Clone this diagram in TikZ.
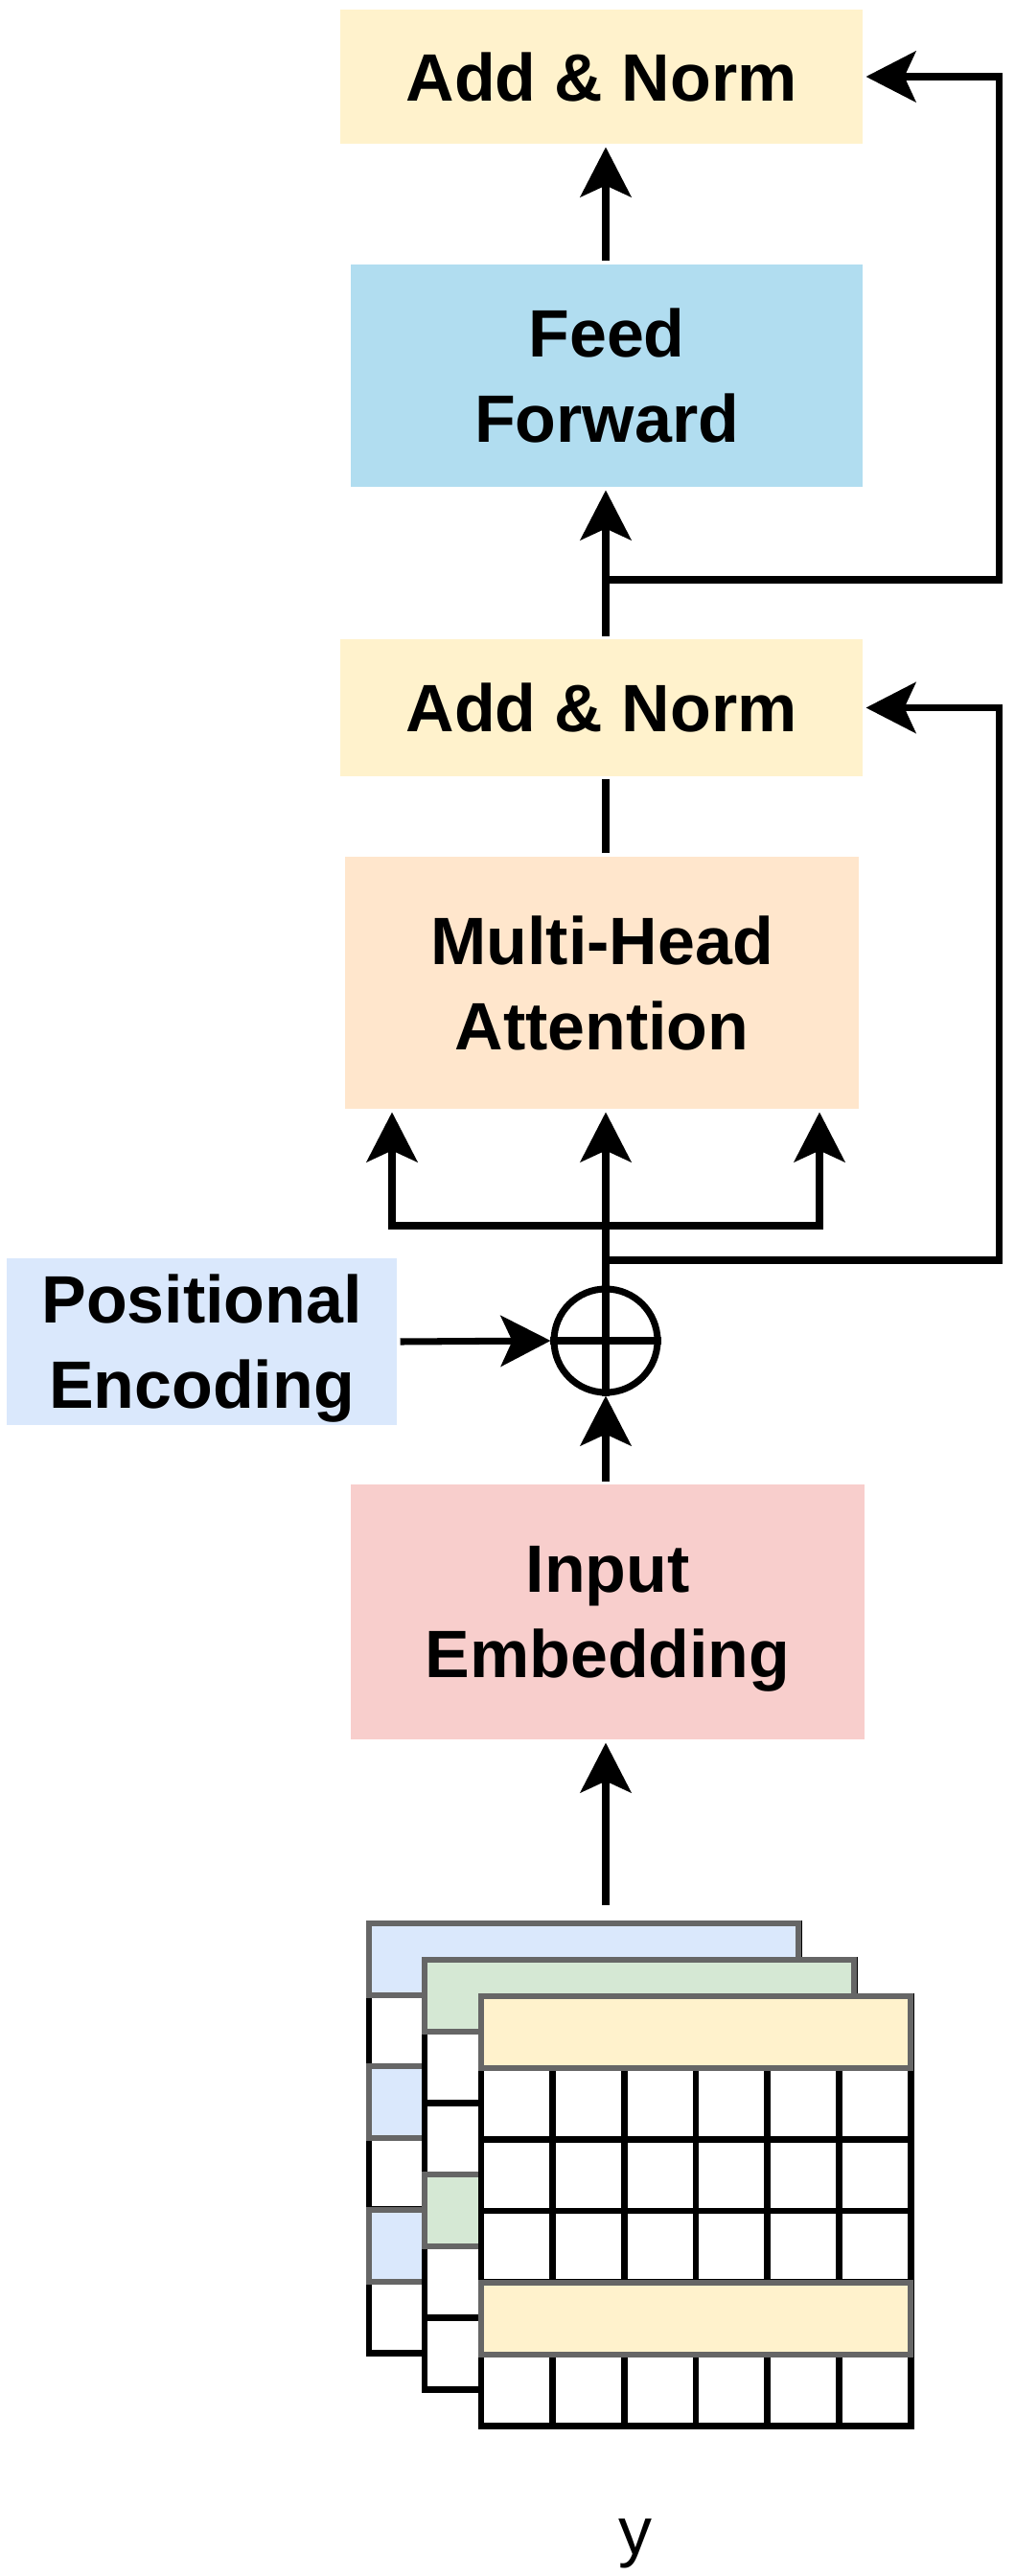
\documentclass[tikz,border=0pt]{standalone}
\usepackage{fontspec}
\setmainfont{Liberation Sans}
\usetikzlibrary{arrows.meta}

\definecolor{normyellow}{HTML}{FFF2CC}
\definecolor{ffblue}{HTML}{B1DDF0}
\definecolor{mhaorange}{HTML}{FFE6CC}
\definecolor{peblue}{HTML}{DAE8FC}
\definecolor{iered}{HTML}{F8CECC}
\definecolor{matgreen}{HTML}{D5E8D4}

% one token matrix: left, top, row colour, coloured rows
\newcommand{\tokmat}[4]{%
  \foreach \ci in {0,...,5}{
    \foreach \cj in {0,...,5}{
      \draw[cell] ({#1+\ci*0.747},{#2-\cj*0.747}) rectangle ++(0.747,-0.747);
    }
  }
  \foreach \cj in {#4}{
    \draw[band,fill=#3] ({#1},{#2-\cj*0.747}) rectangle ++(4.482,-0.747);
  }
}

\begin{document}
\begin{tikzpicture}[
  line width=2pt,
  box/.style={inner sep=0pt,align=center,text depth=0pt,font=\fontsize{19.9}{25.3}\selectfont\bfseries},
  arr/.style={-{Stealth[length=0.52cm,width=0.53cm,inset=0.12cm]}},
  cell/.style={fill=white,draw=black,line width=1.9pt},
  band/.style={draw=black!60,line width=1.7pt}]
\useasboundingbox (0,0) rectangle (10.58,-26.88);

\node[box,fill=normyellow,minimum width=5.45cm,minimum height=1.40cm] (an2) at (6.275,-0.80) {Add \& Norm};
\node[box,fill=ffblue,minimum width=5.34cm,minimum height=2.32cm] (ff) at (6.33,-3.92) {Feed\\Forward};
\node[box,fill=normyellow,minimum width=5.45cm,minimum height=1.42cm] (an1) at (6.275,-7.385) {Add \& Norm};
\node[box,fill=mhaorange,minimum width=5.36cm,minimum height=2.63cm] (mha) at (6.28,-10.255) {Multi-Head\\Attention};
\node[circle,draw,minimum size=1.08cm,inner sep=0pt] (plus) at (6.32,-13.99) {};
\node[box,fill=peblue,minimum width=4.07cm,minimum height=1.74cm] (pe) at (2.105,-14.00) {Positional\\Encoding};
\node[box,fill=iered,minimum width=5.36cm,minimum height=2.66cm] (ie) at (6.34,-16.82) {Input\\Embedding};
\node[font=\fontsize{19.9}{24}\selectfont] (ylab) at (6.63,-26.54) {y};

\tokmat{3.85}{-20.07}{peblue}{0,2,4}
\tokmat{4.43}{-20.45}{matgreen}{0,3}
\tokmat{5.02}{-20.83}{normyellow}{0,4}

\coordinate (yin) at (6.32,-19.88);
\coordinate (res2) at (6.32,-6.05);
\coordinate (split1) at (6.32,-12.79);
\coordinate (res1) at (6.32,-13.15);
\coordinate (mhain) at (split1 |- mha.south);

\draw[arr] (yin) -- (yin |- ie.south);
\draw[arr] (ie.north -| plus) -- (plus.south);
\draw[arr] (pe.east) -- (plus.west);
\draw (plus.north) -- (plus.south) (plus.west) -- (plus.east);
\draw[arr] (plus.north) -- (mhain);
\draw[arr] (split1) -| ([xshift=-2.23cm]mhain);
\draw[arr] (split1) -| ([xshift=2.23cm]mhain);
\draw[arr] (res1) -- ++(4.10,0) |- (an1.east);
\draw (mhain |- mha.north) -- (mhain |- an1.south);
\draw[arr] (mhain |- an1.north) -- (mhain |- ff.south);
\draw[arr] (res2) -- ++(4.10,0) |- (an2.east);
\draw[arr] (mhain |- ff.north) -- (mhain |- an2.south);
\end{tikzpicture}
\end{document}
